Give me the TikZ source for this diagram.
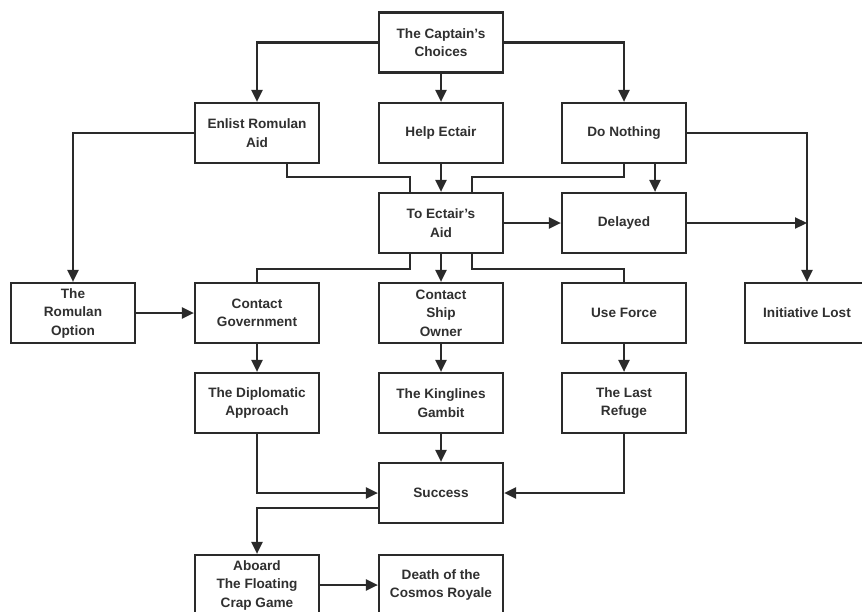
\documentclass[tikz,border=0pt]{standalone}
\usepackage{fontspec}
\setmainfont{Liberation Sans}
\usetikzlibrary{arrows.meta,calc}
\definecolor{ink}{HTML}{2A2A2A}
\definecolor{txt}{HTML}{303030}
\begin{document}
\begin{tikzpicture}[x=1pt,y=-1pt,
  box/.style={draw=ink,line width=2.2pt,minimum width=124pt,minimum height=60pt,
    inner sep=1pt,align=center,text=txt,font=\bfseries\fontsize{13.6pt}{18.5pt}\selectfont},
  conn/.style={draw=ink,line width=2.2pt},
  arr/.style={conn,-{Triangle[length=12pt,width=11pt]}}]
\useasboundingbox (0,0) rectangle (862,611);
\clip (0,0) rectangle (862,611);
\fill[white] (0,0) rectangle (862,611);
% nodes
\node[box] (cap) at (441,42.5) {The Captain's\\Choices};
\node[box] (enlist) at (257,133) {Enlist Romulan\\Aid};
\node[box] (help) at (441,133) {Help Ectair};
\node[box] (nothing) at (624,133) {Do Nothing};
\node[box] (toaid) at (441,223) {To Ectair's\\Aid};
\node[box] (delayed) at (624,223) {Delayed};
\node[box] (romulan) at (73,313) {The\\Romulan\\Option};
\node[box] (gov) at (257,313) {Contact\\Government};
\node[box] (ship) at (441,313) {Contact\\Ship\\Owner};
\node[box] (force) at (624,313) {Use Force};
\node[box] (lost) at (807,313) {Initiative Lost};
\node[box] (dipl) at (257,403) {The Diplomatic\\Approach};
\node[box] (king) at (441,403) {The Kinglines\\Gambit};
\node[box] (refuge) at (624,403) {The Last\\Refuge};
\node[box] (success) at (441,493) {Success};
\node[box] (aboard) at (257,585) {Aboard\\The Floating\\Crap Game};
\node[box] (death) at (441,585) {Death of the\\Cosmos Royale};
% top level
\draw[arr] (cap.west) -| (enlist.north);
\draw[arr] (cap.south) -- (help.north);
\draw[arr] (cap.east) -| (nothing.north);
% into To Ectair's Aid
\draw[conn] ([xshift=30pt]enlist.south) |- ([xshift=-31pt,yshift=15pt]toaid.north) -- ([xshift=-31pt]toaid.north);
\draw[arr] (help.south) -- (toaid.north);
\draw[conn] (nothing.south) |- ([xshift=31pt,yshift=15pt]toaid.north) -- ([xshift=31pt]toaid.north);
\draw[arr] ([xshift=31pt]nothing.south) -- ([xshift=31pt]delayed.north);
% right side
\draw[arr] (nothing.east) -| (lost.north);
\coordinate (join) at (delayed.east -| lost.north);
\draw[arr] (delayed.east) -- (join);
\draw[arr] (toaid.east) -- (delayed.west);
% left side
\draw[arr] (enlist.west) -| (romulan.north);
\draw[arr] (romulan.east) -- (gov.west);
% out of To Ectair's Aid
\draw[conn] ([xshift=-31pt]toaid.south) -- ++(0,15) -| (gov.north);
\draw[arr] (toaid.south) -- (ship.north);
\draw[conn] ([xshift=31pt]toaid.south) -- ++(0,15) -| (force.north);
% middle
\draw[arr] (gov.south) -- (dipl.north);
\draw[arr] (ship.south) -- (king.north);
\draw[arr] (force.south) -- (refuge.north);
% into Success
\draw[arr] (dipl.south) |- (success.west);
\draw[arr] (king.south) -- (success.north);
\draw[arr] (refuge.south) |- (success.east);
% bottom
\draw[arr] ([yshift=-15pt]success.west) -| (aboard.north);
\draw[arr] (aboard.east) -- (death.west);
\end{tikzpicture}
\end{document}
